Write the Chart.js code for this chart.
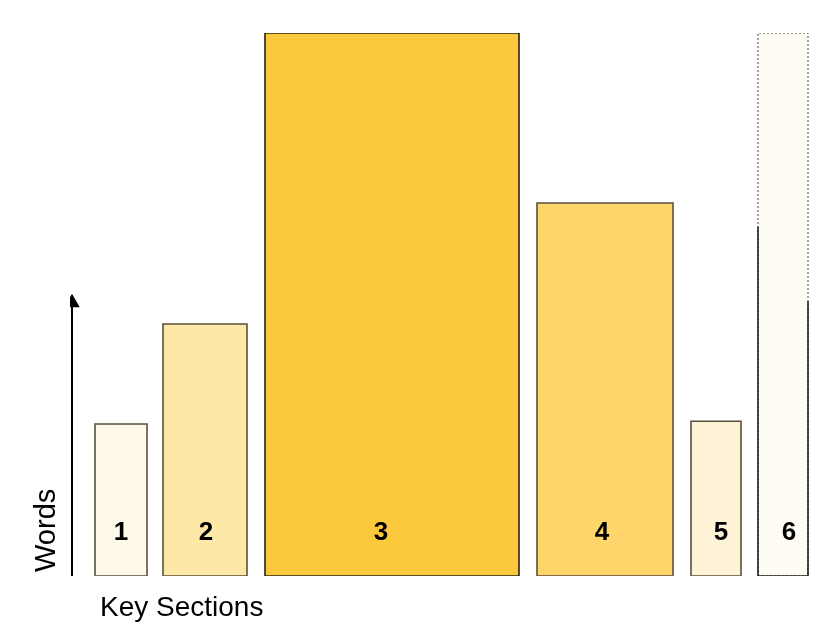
<!DOCTYPE html>
<html>
<head>
<meta charset="utf-8">
<script src="https://cdn.jsdelivr.net/npm/chart.js@4/dist/chart.umd.min.js"></script>
<style>
  html, body { margin: 0; padding: 0; background: #fff; }
  #wrap { width: 840px; height: 631px; }
</style>
</head>
<body>
<div id="wrap"><canvas id="myChart"></canvas></div>
<script>
// key sections, variable widths (x in section units, y in words %)
const sections = ['1', '2', '3', '4', '5', '6'];
const sectionStart = [25, 93, 195, 467, 621, 688];
const sectionWidth = [52, 84, 254, 136, 50, 50];
const wordHeight = [28, 46.4, 100, 68.7, 28.5, 100];
const solidLeft6 = 64.3;
const solidRight6 = 50.6;
const labelShift = [0, 1, -11, -3, 5, 6];
const fills = ['#FEF9EA', '#FEE8A8', '#FDC93C', '#FDD56B', '#FEF3D6', '#FFFCF4'];
const borders = ['#5a503c', '#5a503c', '#2a2418', '#5a503c', '#5a503c', '#444444'];

function sectionBox(i) {
  const s = sectionStart[i], e = sectionStart[i] + sectionWidth[i], h = wordHeight[i];
  return [{x: s, y: 0}, {x: s, y: h}, {x: e, y: h}, {x: e, y: 0}];
}

let datasets = [];
for (let i = 0; i < sections.length; i++) {
  const last = i === sections.length - 1;
  // filled area
  datasets.push({
    label: 'fill' + sections[i],
    data: sectionBox(i),
    backgroundColor: fills[i],
    borderWidth: 0,
    borderColor: 'rgba(0,0,0,0)',
    fill: 'origin',
    pointRadius: 0,
    tension: 0,
    order: 2
  });
  // outline
  datasets.push({
    label: sections[i],
    data: sectionBox(i).concat([{x: sectionStart[i], y: 0}]),
    borderColor: borders[i],
    borderWidth: last ? 1 : 1.6,
    borderDash: last ? [2, 2] : [],
    fill: false,
    pointRadius: 0,
    tension: 0,
    order: 1
  });
}
// solid outline for the lower part of section 6
const s6 = sectionStart[5], e6 = sectionStart[5] + sectionWidth[5];
datasets.push({
  label: 'solid6',
  data: [{x: s6, y: solidLeft6}, {x: s6, y: 0}, {x: e6, y: 0}, {x: e6, y: solidRight6}],
  borderColor: '#222',
  borderWidth: 1.6,
  fill: false,
  pointRadius: 0,
  tension: 0,
  order: 0
});
// axis arrow
datasets.push({
  label: 'arrow',
  data: [{x: 2, y: 0}, {x: 2, y: 50.3}],
  borderColor: '#000',
  backgroundColor: '#000',
  borderWidth: 2,
  fill: false,
  pointStyle: 'triangle',
  pointRadius: [0, 7],
  pointBackgroundColor: '#000',
  pointBorderColor: '#000',
  tension: 0,
  order: 0
});

const labelPlugin = {
  id: 'labels',
  afterDatasetsDraw(chart) {
    const c = chart.ctx, xs = chart.scales.x;
    c.save();
    c.fillStyle = '#000';
    c.font = 'bold 26px "Liberation Sans", Arial, sans-serif';
    c.textAlign = 'center';
    c.textBaseline = 'middle';
    for (let i = 0; i < sections.length; i++) {
      const mid = sectionStart[i] + sectionWidth[i] / 2;
      c.fillText(sections[i], xs.getPixelForValue(mid) + labelShift[i], 533);
    }
    c.font = '28px "Liberation Sans", Arial, sans-serif';
    c.textAlign = 'left';
    c.textBaseline = 'alphabetic';
    c.fillText('Key Sections', 100, 616);
    c.translate(55, 572);
    c.rotate(-Math.PI / 2);
    c.font = '29px "Liberation Sans", Arial, sans-serif';
    c.fillText('Words', 0, 0);
    c.restore();
  }
};

new Chart(document.getElementById('myChart'), {
  type: 'line',
  data: { datasets: datasets },
  options: {
    responsive: true,
    maintainAspectRatio: false,
    animation: false,
    layout: { padding: { left: 70, right: 25, top: 33, bottom: 55 } },
    plugins: { legend: { display: false }, tooltip: { enabled: false } },
    scales: {
      x: { type: 'linear', min: 0, max: 745, display: false },
      y: { type: 'linear', min: 0, max: 100, display: false }
    }
  },
  plugins: [labelPlugin]
});
</script>
</body>
</html>
